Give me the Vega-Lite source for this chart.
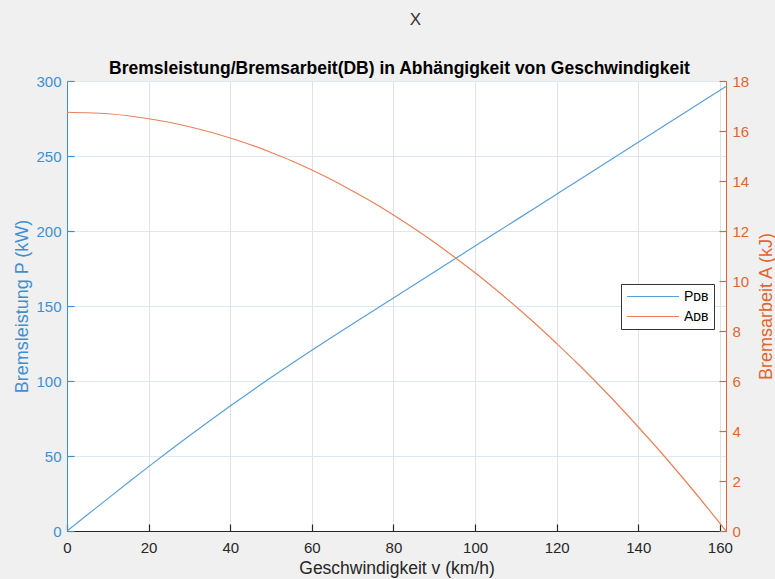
{
  "$schema": "https://vega.github.io/schema/vega-lite/v6.json",
  "width": 659,
  "height": 450,
  "autosize": {"type": "none"},
  "padding": {"left": 67, "top": 81, "right": 49, "bottom": 48},
  "background": "#f0f0f0",
  "config": {
    "font": "Liberation Sans",
    "view": {"fill": "white", "stroke": "#d4d4d4"}
  },
  "title": {
    "text": "X",
    "anchor": "middle",
    "dx": 19,
    "font": "Liberation Sans",
    "fontSize": 17,
    "fontWeight": "normal",
    "color": "#333333",
    "offset": 30
  },
  "data": {
    "values": [
      {"v": 0, "P": 0, "A": 16.75},
      {"v": 5, "P": 10.8, "A": 16.73},
      {"v": 10, "P": 21.6, "A": 16.69},
      {"v": 15, "P": 32.3, "A": 16.61},
      {"v": 20, "P": 42.9, "A": 16.49},
      {"v": 25, "P": 53.3, "A": 16.35},
      {"v": 30, "P": 63.5, "A": 16.17},
      {"v": 35, "P": 73.5, "A": 15.96},
      {"v": 40, "P": 83.3, "A": 15.72},
      {"v": 45, "P": 92.9, "A": 15.45},
      {"v": 50, "P": 102.3, "A": 15.14},
      {"v": 55, "P": 111.5, "A": 14.81},
      {"v": 60, "P": 120.5, "A": 14.44},
      {"v": 65, "P": 129.3, "A": 14.04},
      {"v": 70, "P": 138, "A": 13.6},
      {"v": 75, "P": 146.7, "A": 13.14},
      {"v": 80, "P": 155.35, "A": 12.64},
      {"v": 85, "P": 164, "A": 12.11},
      {"v": 90, "P": 172.65, "A": 11.55},
      {"v": 95, "P": 181.3, "A": 10.95},
      {"v": 100, "P": 189.95, "A": 10.33},
      {"v": 105, "P": 198.6, "A": 9.67},
      {"v": 110, "P": 207.25, "A": 8.98},
      {"v": 115, "P": 215.9, "A": 8.26},
      {"v": 120, "P": 224.55, "A": 7.5},
      {"v": 125, "P": 233.2, "A": 6.72},
      {"v": 130, "P": 241.85, "A": 5.9},
      {"v": 135, "P": 250.5, "A": 5.05},
      {"v": 140, "P": 259.15, "A": 4.16},
      {"v": 145, "P": 267.8, "A": 3.25},
      {"v": 150, "P": 276.45, "A": 2.3},
      {"v": 155, "P": 285.1, "A": 1.32},
      {"v": 161.5, "P": 296.3, "A": 0}
    ]
  },
  "layer": [
    {
      "mark": {"type": "line", "strokeWidth": 1.2, "interpolate": "monotone", "clip": true},
      "encoding": {
        "x": {
          "field": "v",
          "type": "quantitative",
          "scale": {"domain": [0, 161.5], "nice": false},
          "axis": {
            "orient": "bottom",
            "values": [0, 20, 40, 60, 80, 100, 120, 140, 160],
            "grid": true,
            "gridColor": "#e3e3e3",
            "domainColor": "#262626",
            "tickColor": "#262626",
            "tickSize": -7,
            "tickWidth": 1.2,
            "labelPadding": 16,
            "labelFlush": false,
            "labelFontSize": 15,
            "labelColor": "#262626",
            "title": "Geschwindigkeit v (km/h)",
            "titleFontSize": 17.5,
            "titleFontWeight": "normal",
            "titleColor": "#262626",
            "titlePadding": 4
          }
        },
        "y": {
          "field": "P",
          "type": "quantitative",
          "scale": {"domain": [0, 300], "nice": false},
          "axis": {
            "orient": "left",
            "values": [0, 50, 100, 150, 200, 250, 300],
            "grid": true,
            "gridColor": "#dde8f3",
            "domainColor": "#3f8fcf",
            "tickColor": "#3f8fcf",
            "tickSize": -7,
            "tickWidth": 1.2,
            "labelPadding": 13,
            "labelFontSize": 15,
            "labelColor": "#3f8fcf",
            "title": "Bremsleistung P (kW)",
            "titleFontSize": 18,
            "titleFontWeight": "normal",
            "titleColor": "#3f8fcf",
            "titlePadding": 4
          }
        },
        "color": {
          "datum": "Pᴅʙ",
          "type": "nominal",
          "scale": {"domain": ["Pᴅʙ", "Aᴅʙ"], "range": ["#5a9fd8", "#e8825a"]},
          "legend": {
            "orient": "none",
            "legendX": 554,
            "legendY": 203,
            "title": null,
            "symbolType": "M-1,0H7",
            "symbolSize": 169,
            "symbolStrokeWidth": 1.2,
            "labelFontSize": 14,
            "labelColor": "#000000",
            "labelOffset": 43,
            "fillColor": "white",
            "strokeColor": "#333333",
            "padding": 5,
            "rowPadding": 5
          }
        }
      }
    },
    {
      "mark": {"type": "line", "strokeWidth": 1.2, "interpolate": "monotone", "clip": true},
      "encoding": {
        "x": {
          "field": "v",
          "type": "quantitative",
          "axis": {
            "orient": "top",
            "labels": false,
            "ticks": false,
            "domain": false,
            "grid": false,
            "title": "Bremsleistung/Bremsarbeit(DB) in Abhängigkeit von Geschwindigkeit",
            "titleX": 332,
            "titleY": -13,
            "titleAlign": "center",
            "titleBaseline": "middle",
            "titleFontSize": 17.5,
            "titleFontWeight": "bold",
            "titleColor": "#000000"
          }
        },
        "y": {
          "field": "A",
          "type": "quantitative",
          "scale": {"domain": [0, 18], "nice": false},
          "axis": {
            "orient": "right",
            "values": [0, 2, 4, 6, 8, 10, 12, 14, 16, 18],
            "grid": false,
            "domainColor": "#e0662e",
            "tickColor": "#e0662e",
            "tickSize": -7,
            "tickWidth": 1.2,
            "labelPadding": 13,
            "labelFontSize": 15,
            "labelColor": "#e0662e",
            "title": "Bremsarbeit A (kJ)",
            "titleAngle": 270,
            "titleFontSize": 18,
            "titleFontWeight": "normal",
            "titleColor": "#e0662e",
            "titlePadding": 27
          }
        },
        "color": {"datum": "Aᴅʙ", "type": "nominal"}
      }
    }
  ],
  "resolve": {"scale": {"y": "independent"}, "axis": {"x": "independent"}}
}
